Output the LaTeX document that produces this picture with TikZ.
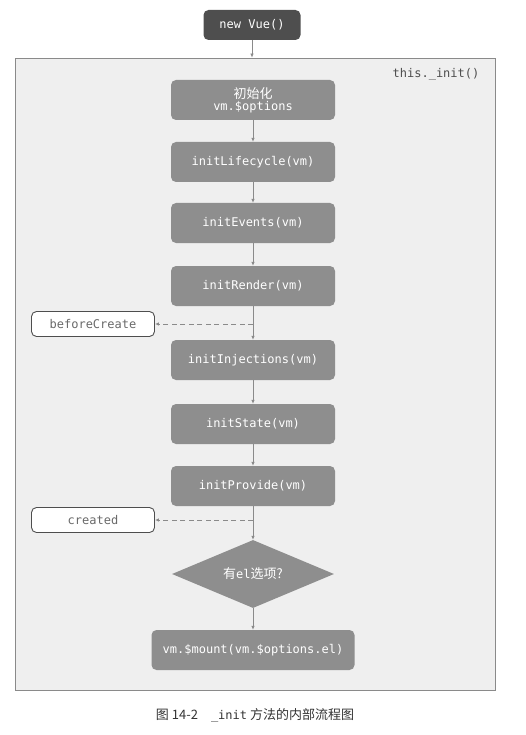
\documentclass[tikz,border=0pt]{standalone}
\usepackage{fontspec}
\setmonofont{DejaVu Sans Mono}
\newfontfamily\cjk{Noto Sans CJK SC}
\usepackage{tikz}
\usetikzlibrary{positioning,arrows.meta,shapes.geometric}

\definecolor{boxgray}{HTML}{8E8E8E}
\definecolor{darkgray}{HTML}{4E4E4E}
\definecolor{framegray}{HTML}{EFEFEF}
\definecolor{linegray}{HTML}{8A8A8A}

\begin{document}
\begin{tikzpicture}[
  x = 1pt, y = -1pt,
  every node/.style = {font = \ttfamily\fontsize{12}{13}\selectfont},
  initbox/.style = {fill = boxgray, text = white, rounded corners = 5pt,
    minimum width = 164pt, minimum height = 40pt, align = center},
  hookbox/.style = {draw = darkgray, fill = white, text = darkgray!85, rounded corners = 5pt,
    line width = 0.9pt, minimum width = 123pt, minimum height = 25pt},
  flow/.style = {draw = linegray, line width = 0.7pt, -{Latex[length = 4pt, width = 3.5pt]}},
  hook/.style = {flow, line width = 0.9pt, dash pattern = on 5pt off 3.5pt}
]
\useasboundingbox (0,0) rectangle (525,735);
% outer frame
\node [draw = linegray, fill = framegray, line width = 0.8pt,
  minimum width = 480pt, minimum height = 632pt] (frame) at (255,374) {};
\node [text = darkgray] (initname) at (436,74) {this.\_init()};

\node [initbox, fill = darkgray, minimum width = 97pt, minimum height = 30pt] (vue) at (252,25) {new Vue()};

\node [initbox, inner sep = 1pt] (options) at (253,100)
  {{\cjk\fontsize{13}{14}\selectfont 初始化}\\[-1pt]vm.\$options};
\node [initbox] (lifecycle) at (253,162) {initLifecycle(vm)};
\node [initbox] (events) at (253,223) {initEvents(vm)};
\node [initbox] (render) at (253,286) {initRender(vm)};
\node [hookbox] (before) at (93,324) {beforeCreate};
\node [initbox] (injections) at (253,360) {initInjections(vm)};
\node [initbox] (state) at (253,424) {initState(vm)};
\node [initbox] (provide) at (253,486) {initProvide(vm)};
\node [hookbox] (created) at (93,520) {created};
\node [diamond, fill = boxgray, text = white, aspect = 2.4,
  minimum width = 162pt, minimum height = 68pt, inner sep = 0pt] (hasel) at (253,574)
  {{\cjk\fontsize{13}{14}\selectfont 有}el{\cjk\fontsize{13}{14}\selectfont 选项?}};
\node [initbox, minimum width = 203pt] (mount) at (253,650) {vm.\$mount(vm.\$options.el)};

% caption
\node [font = \cjk\fontsize{13}{15}\selectfont, text = black!80] (caption) at (255,715)
  {图 14-2\quad{\ttfamily\fontsize{12}{14}\selectfont\_init} 方法的内部流程图};

% connectors
\draw [flow] (vue) -- (vue |- frame.north);
\draw [flow] (options) -- (lifecycle);
\draw [flow] (lifecycle) -- (events);
\draw [flow] (events) -- (render);
\draw [flow] (render) -- (injections);
\draw [hook] (render.south |- before) -- (before);
\draw [flow] (injections) -- (state);
\draw [flow] (state) -- (provide);
\draw [flow] (provide) -- (hasel);
\draw [hook] (provide.south |- created) -- (created);
\draw [flow] (hasel) -- (mount);
\end{tikzpicture}
\end{document}
